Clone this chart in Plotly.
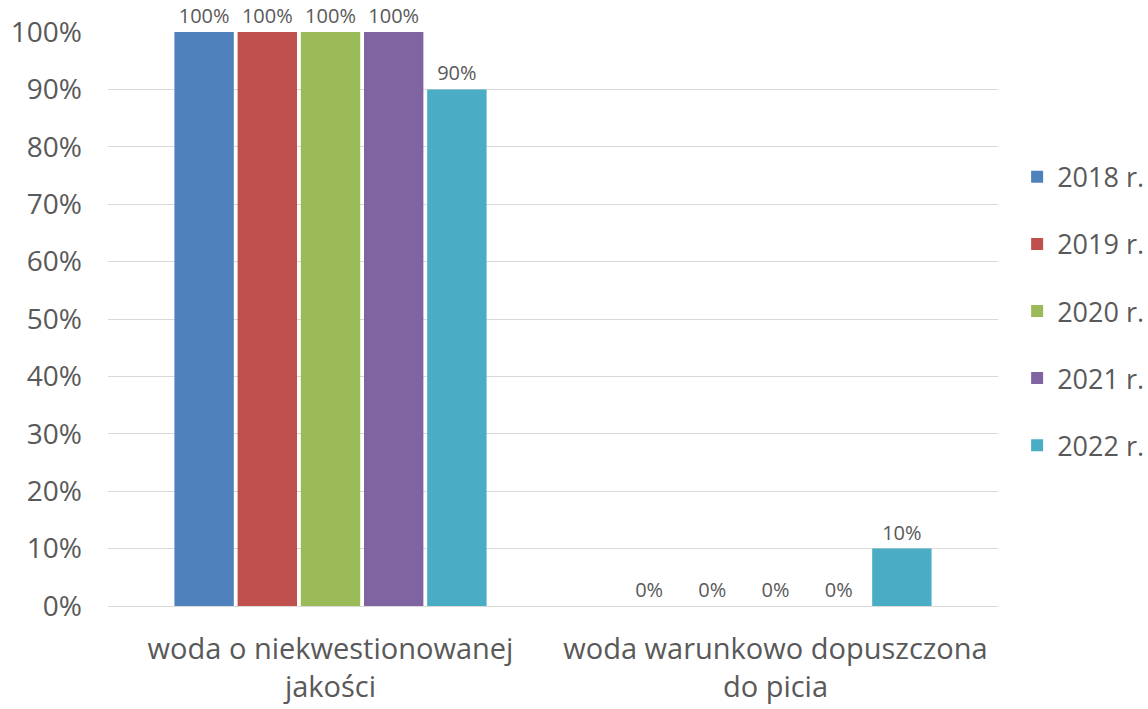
import plotly.graph_objects as go

categories = ["woda o niekwestionowanej<br>jakości", "woda warunkowo dopuszczona<br>do picia"]
series_names = ["2018 r.", "2019 r.", "2020 r.", "2021 r.", "2022 r."]
values_2018 = [1.00, 0.00]
values_2019 = [1.00, 0.00]
values_2020 = [1.00, 0.00]
values_2021 = [1.00, 0.00]
values_2022 = [0.90, 0.10]
colors = ["#4F81BD", "#C0504D", "#9BBB59", "#8064A2", "#4BACC6"]

all_values = [values_2018, values_2019, values_2020, values_2021, values_2022]

FONT = "Open Sans"
TXT = "#595959"

fig = go.Figure()
for name, vals, col in zip(series_names, all_values, colors):
    fig.add_trace(go.Bar(
        name=name, x=categories, y=vals,
        marker=dict(color=col, line=dict(width=0)),
        text=[f"{round(v*100)}%" for v in vals],
        textposition="outside",
        textfont=dict(family=FONT, size=20, color=TXT),
        constraintext="none",
        cliponaxis=False,
        legendgroup=name,
    ))

fig.update_layout(
    width=1148, height=709,
    paper_bgcolor="white", plot_bgcolor="white",
    margin=dict(l=108, r=150, t=32, b=103),
    barmode="group", bargap=0.29, bargroupgap=0.06,
    font=dict(family=FONT, color=TXT),
    legend=dict(
        xref="container", yref="container",
        x=0.886, xanchor="left", y=0.561, yanchor="middle",
        font=dict(family=FONT, size=27, color=TXT),
        traceorder="grouped", tracegroupgap=29,
        itemwidth=30,
    ),
    yaxis=dict(
        range=[0, 1], tickvals=[i/10 for i in range(11)],
        tickformat=".0%", showgrid=True, gridcolor="#D9D9D9", gridwidth=1,
        zeroline=False, showline=False, automargin=False,
        tickfont=dict(family=FONT, size=28, color=TXT),
        ticklabelstandoff=25,
    ),
    xaxis=dict(
        showline=True, linecolor="#D9D9D9", linewidth=1, automargin=False,
        tickfont=dict(family=FONT, size=29, color=TXT),
        ticklabelstandoff=17,
    ),
)

fig.write_html(
    "out.html",
    config={"displayModeBar": False},
    post_script="document.body.style.margin='0';document.body.style.padding='0';",
)
